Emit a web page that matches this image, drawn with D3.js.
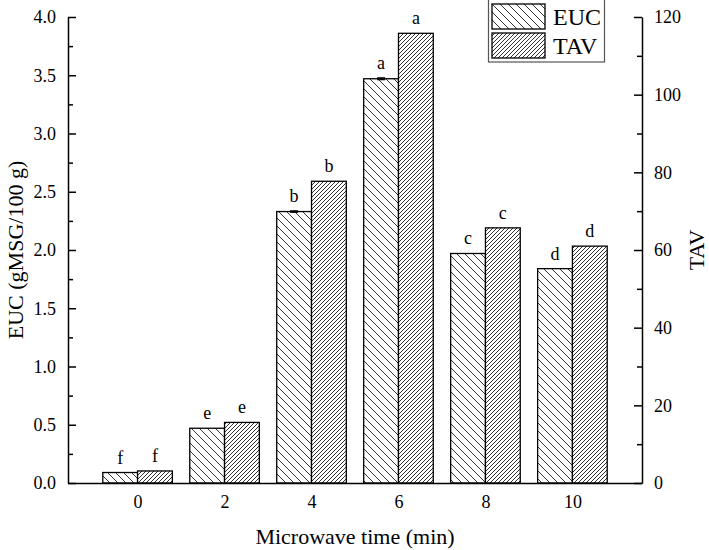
<!DOCTYPE html>
<html>
<head>
<meta charset="utf-8">
<script src="https://cdn.jsdelivr.net/npm/d3@7"></script>
<style>
  body { margin: 0; background: #fff; }
  svg { display: block; font-family: 'Liberation Serif', 'Times New Roman', serif; }
  .axis path, .axis line { stroke: #000; stroke-width: 1.5; }
  .axis text { font-size: 18px; fill: #000; font-family: 'Liberation Serif', serif; }
  .hatch { stroke: #333; stroke-width: 1; }
</style>
</head>
<body>
<svg class="chart" width="709" height="550"></svg>
<script>
const times = [0, 2, 4, 6, 8, 10];
const eucValues = [0.09, 0.47, 2.33, 3.47, 1.97, 1.84];
const eucErrors = [0, 0, 0.006, 0.008, 0, 0];
const tavValues = [3.1, 15.6, 77.7, 115.8, 65.7, 61.0];
const eucLetters = ['f', 'e', 'b', 'a', 'c', 'd'];
const tavLetters = ['f', 'e', 'b', 'a', 'c', 'd'];
const eucTicks = [0, 0.5, 1.0, 1.5, 2.0, 2.5, 3.0, 3.5, 4.0];
const tavTicks = [0, 20, 40, 60, 80, 100, 120];
const seriesNames = ['EUC', 'TAV'];

const createHatch = (defs, id, size, slope) => {
  const pattern = defs.append('pattern')
    .attr('id', id)
    .attr('patternUnits', 'userSpaceOnUse')
    .attr('width', size)
    .attr('height', size);
  pattern.append('rect')
    .attr('width', size)
    .attr('height', size)
    .attr('fill', '#fff');
  const segs = slope === 'back'
    ? [[-1, -1, size + 1, size + 1], [-1, size - 1, 1, size + 1], [size - 1, -1, size + 1, 1]]
    : [[-1, size + 1, size + 1, -1], [-1, 1, 1, -1], [size - 1, size + 1, size + 1, size - 1]];
  segs.forEach(([x1, y1, x2, y2]) => {
    pattern.append('line')
      .classed('hatch', true)
      .attr('x1', x1).attr('y1', y1)
      .attr('x2', x2).attr('y2', y2);
  });
};

const startApp = () => {
  const margin = { top: 17, left: 68, bottom: 67, right: 67 };
  const width = 709 - margin.left - margin.right;
  const height = 550 - margin.top - margin.bottom;
  const svg = d3.select('.chart');
  const defs = svg.append('defs');
  createHatch(defs, 'eucHatch', 8, 'back');
  createHatch(defs, 'tavHatch', 4, 'fwd');

  const chart = svg.append('g')
    .attr('transform', `translate(${margin.left}, ${margin.top})`);

  const xScale = d3.scaleLinear().domain([-1.6, 11.6]).range([0, width]);
  const yLeft = d3.scaleLinear().domain([0, 4]).range([height, 0]);
  const yRight = d3.scaleLinear().domain([0, 120]).range([height, 0]);
  const barWidth = xScale(0.8) - xScale(0);

  const eucData = times.map((t, i) => ({ t, v: eucValues[i], e: eucErrors[i], letter: eucLetters[i] }));
  const tavData = times.map((t, i) => ({ t, v: tavValues[i], letter: tavLetters[i] }));

  // EUC bars (left of centre)
  chart.selectAll('.euc')
    .data(eucData)
    .enter()
    .append('rect')
    .attr('x', ({ t }) => xScale(t) - barWidth)
    .attr('y', ({ v }) => yLeft(v))
    .attr('width', barWidth)
    .attr('height', ({ v }) => height - yLeft(v))
    .attr('fill', 'url(#eucHatch)')
    .attr('stroke', '#000')
    .attr('stroke-width', 1.3);

  // TAV bars (right of centre)
  chart.selectAll('.tav')
    .data(tavData)
    .enter()
    .append('rect')
    .attr('x', ({ t }) => xScale(t))
    .attr('y', ({ v }) => yRight(v))
    .attr('width', barWidth)
    .attr('height', ({ v }) => height - yRight(v))
    .attr('fill', 'url(#tavHatch)')
    .attr('stroke', '#000')
    .attr('stroke-width', 1.3);

  // error bars on EUC (only where visible)
  const errs = chart.selectAll('.err')
    .data(eucData.filter(({ e }) => e > 0))
    .enter()
    .append('g');
  errs.append('line')
    .attr('x1', ({ t }) => xScale(t) - barWidth / 2)
    .attr('x2', ({ t }) => xScale(t) - barWidth / 2)
    .attr('y1', ({ v, e }) => yLeft(v + e))
    .attr('y2', ({ v, e }) => yLeft(v - e))
    .attr('stroke', '#000')
    .attr('stroke-width', 1.2);
  errs.selectAll('.cap')
    .data(d => [d.v + d.e, d.v - d.e].map(y => ({ t: d.t, y })))
    .enter()
    .append('line')
    .attr('x1', ({ t }) => xScale(t) - barWidth / 2 - 4)
    .attr('x2', ({ t }) => xScale(t) - barWidth / 2 + 4)
    .attr('y1', ({ y }) => yLeft(y))
    .attr('y2', ({ y }) => yLeft(y))
    .attr('stroke', '#000')
    .attr('stroke-width', 1.2);

  // significance letters
  chart.selectAll('.eucLetter')
    .data(eucData)
    .enter()
    .append('text')
    .attr('x', ({ t }) => xScale(t) - barWidth / 2)
    .attr('y', ({ v, e }) => yLeft(v + e) - 9)
    .attr('text-anchor', 'middle')
    .style('font-size', '18px')
    .text(({ letter }) => letter);
  chart.selectAll('.tavLetter')
    .data(tavData)
    .enter()
    .append('text')
    .attr('x', ({ t }) => xScale(t) + barWidth / 2)
    .attr('y', ({ v }) => yRight(v) - 9)
    .attr('text-anchor', 'middle')
    .style('font-size', '18px')
    .text(({ letter }) => letter);

  // axes
  const minorLeft = d3.range(0.25, 4, 0.5);
  const minorRight = d3.range(10, 120, 20);

  chart.append('g')
    .classed('axis', true)
    .call(d3.axisLeft(yLeft).tickValues(minorLeft).tickSize(-5).tickFormat(''))
    .call(g => g.select('.domain').remove());
  chart.append('g')
    .classed('axis', true)
    .call(d3.axisLeft(yLeft).tickValues(eucTicks).tickSize(-8).tickSizeOuter(0)
      .tickPadding(12).tickFormat(d3.format('.1f')));

  const right = chart.append('g')
    .classed('axis', true)
    .attr('transform', `translate(${width}, 0)`);
  right.append('g')
    .call(d3.axisRight(yRight).tickValues(minorRight).tickSize(-5).tickFormat(''))
    .call(g => g.select('.domain').remove());
  right.append('g')
    .call(d3.axisRight(yRight).tickValues(tavTicks).tickSize(-8).tickSizeOuter(0).tickPadding(12));

  chart.append('g')
    .classed('axis', true)
    .attr('transform', `translate(0, ${height})`)
    .call(d3.axisBottom(xScale).tickValues(times).tickSize(0).tickSizeOuter(0).tickPadding(12));

  // axis titles
  chart.append('text')
    .attr('x', width / 2)
    .attr('y', height + 61)
    .attr('text-anchor', 'middle')
    .style('font-size', '22px')
    .text('Microwave time (min)');
  chart.append('text')
    .attr('transform', `translate(${-margin.left + 23}, ${height / 2}) rotate(-90)`)
    .attr('text-anchor', 'middle')
    .style('font-size', '22px')
    .text('EUC (gMSG/100 g)');
  chart.append('text')
    .attr('transform', `translate(${width + 62}, ${height / 2}) rotate(-90)`)
    .attr('text-anchor', 'middle')
    .style('font-size', '22px')
    .text('TAV');

  // legend
  const legend = svg.append('g').attr('transform', 'translate(488, 0)');
  legend.append('rect')
    .attr('x', 0.5).attr('y', -1)
    .attr('width', 116).attr('height', 63)
    .attr('fill', '#fff')
    .attr('stroke', '#555')
    .attr('stroke-width', 1.2);
  seriesNames.forEach((name, i) => {
    legend.append('rect')
      .attr('x', 4)
      .attr('y', 4 + i * 29)
      .attr('width', 53)
      .attr('height', 25)
      .attr('fill', i === 0 ? 'url(#eucHatch)' : 'url(#tavHatch)')
      .attr('stroke', '#000')
      .attr('stroke-width', 1.3);
    legend.append('text')
      .attr('x', 65)
      .attr('y', 25 + i * 29)
      .style('font-size', '24px')
      .text(name);
  });
};

window.onload = startApp;
</script>
</body>
</html>
